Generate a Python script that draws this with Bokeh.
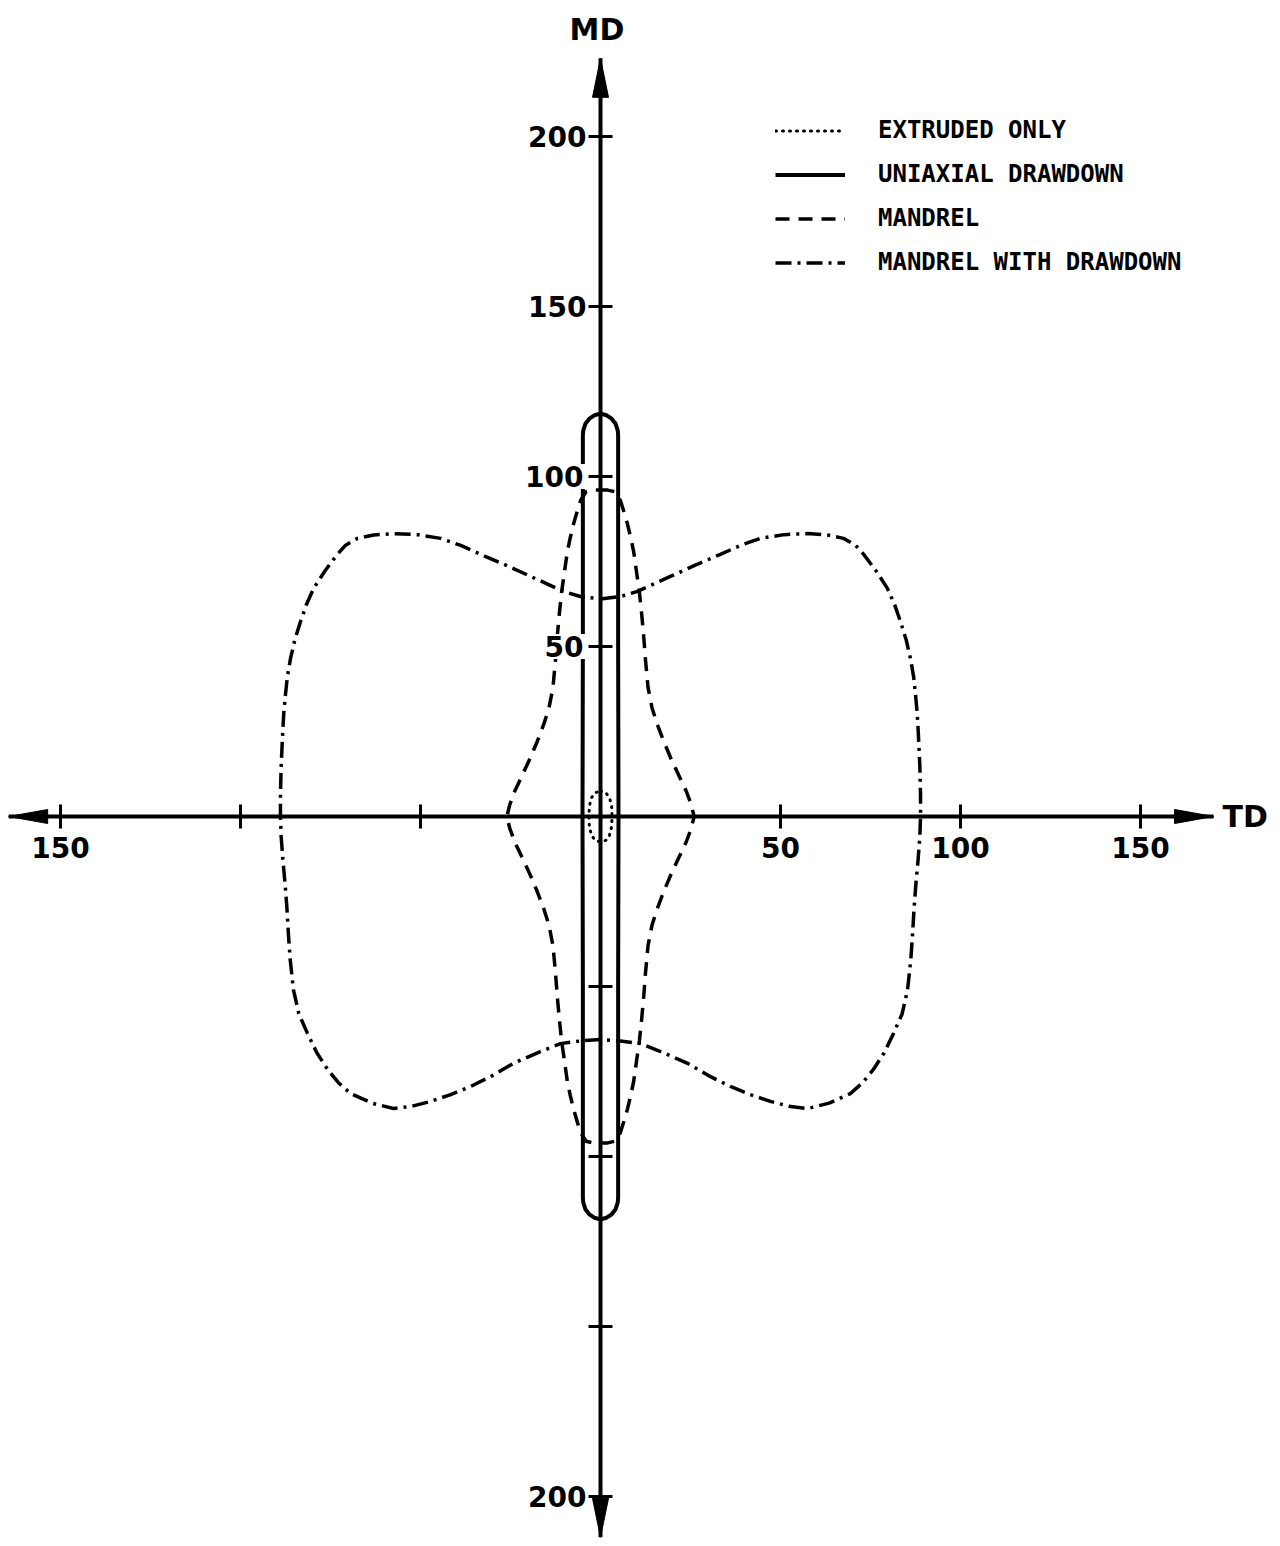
from bokeh.plotting import figure
from bokeh.models import Range1d, FixedTicker, Legend, LegendItem, Label
from bokeh.embed import file_html
from bokeh.resources import INLINE

# ---------------- data ----------------
# Mandrel with drawdown: upper-right profile (MD axis -> TD axis)
mdd_td_upper = [0, 5.6, 10.3, 15, 19.4, 26, 33.3, 39, 44.4, 51, 57.5, 63, 67.5, 70.8,
                73.1, 76.5, 79.7, 81.7, 83.3, 84.9, 86.1, 87, 87.5, 88, 88.3, 88.7, 88.9, 88.9]
mdd_md_upper = [64, 64.7, 66.2, 68.5, 70.6, 73.8, 77.1, 79.8, 81.8, 82.9, 83.2, 82.8, 81.8, 79.8,
                77.1, 72.3, 67.1, 62.3, 57.4, 52, 46.5, 41, 35.9, 30, 24.1, 15, 6.5, 0]
# Mandrel with drawdown: lower-right profile (TD axis -> MD axis)
mdd_td_lower = [88.7, 88.2, 87.6, 87.1, 86.7, 86.2, 85.3, 83.8, 81.4, 78.8, 75.8, 72.8, 69.4,
                63.5, 57.5, 52.3, 47.2, 41.6, 36.1, 30, 24.2, 17.5, 11.1, 5.5, 0]
mdd_md_lower = [-6, -13, -20, -27, -34.4, -42, -50.9, -58, -63.8, -69.5, -74.4, -78.3, -81.5,
                -84.3, -85.9, -85.2, -83.8, -81.8, -79.4, -76.2, -72.6, -69.5, -66.8, -66, -65.6]

# Mandrel: one quadrant (MD axis -> TD axis)
man_td = [0, 2, 4, 5.5, 6.4, 7.5, 8.4, 9.2, 10, 10.8, 11.4, 12, 12.5, 13.2, 14.3, 15.8,
          17.6, 19.6, 21.8, 23.8, 25.2, 26]
man_md = [96, 96, 95.5, 93, 90, 86, 82, 78, 72, 66, 60, 53, 46, 38, 32, 27,
          22, 17, 12, 7.5, 3.5, 0]

# Uniaxial drawdown: one quadrant
uni_td = [0, 1.7, 3.1, 4.2, 4.8, 4.9, 4.9, 5.0]
uni_md = [118.5, 118, 117, 115.5, 113.5, 112, 50, 0]

# Extruded only: one quadrant
ext_td = [0, 1.5, 2.5, 3.1, 3.2]
ext_md = [7.5, 7, 5.5, 3, 0]

series_names = ["EXTRUDED ONLY", "UNIAXIAL DRAWDOWN", "MANDREL", "MANDREL WITH DRAWDOWN"]

x_ticks = [-150, -100, -50, 50, 100, 150]
x_tick_labels = ["150", "", "", "50", "100", "150"]
y_ticks = [200, 150, 100, 50, -50, -100, -150, -200]
y_tick_labels = ["200", "150", "100", "50", "", "", "", "200"]
# tick labels that sit over the curves (drawn with a white box, as in the original)
y_boxed = [100, 50]

td_axis = [-164.4, 170.3]
md_axis = [-212.0, 223.0]

# ---------------- helpers ----------------
def right_half_from_quadrant(td, md):
    x = list(td) + [v for v in reversed(td[:-1])]
    y = list(md) + [-v for v in reversed(md[:-1])]
    return x, y

def close_loop(rx, ry):
    x = list(rx) + [-v for v in reversed(rx[:-1])]
    y = list(ry) + list(reversed(ry[:-1]))
    return x, y

# ---------------- figure ----------------
W, H = 1272, 1538
PX_TD, PX_MD = 3.6, 3.4
x0 = -600 / PX_TD
y1 = 816 / PX_MD
p = figure(width=W, height=H,
           x_range=Range1d(x0, x0 + W / PX_TD),
           y_range=Range1d(y1 - H / PX_MD, y1),
           output_backend="svg", toolbar_location=None, min_border=0)
p.outline_line_color = None
p.grid.visible = False
p.background_fill_color = "white"

FONT = "DejaVu Sans"
TICK_SIZE = "28px"

# axes through the origin
xa = p.xaxis[0]
xa.fixed_location = 0
xa.ticker = FixedTicker(ticks=x_ticks)
xa.major_label_overrides = {t: l for t, l in zip(x_ticks, x_tick_labels)}
ya = p.yaxis[0]
ya.fixed_location = 0
ya.ticker = FixedTicker(ticks=y_ticks)
ya.major_label_overrides = {t: ("" if t in y_boxed else l) for t, l in zip(y_ticks, y_tick_labels)}
for ax in (xa, ya):
    ax.axis_line_color = None
    ax.major_tick_in = 12
    ax.major_tick_out = 12
    ax.major_tick_line_width = 3
    ax.major_tick_line_color = "black"
    ax.minor_tick_line_color = None
    ax.major_label_text_font = FONT
    ax.major_label_text_font_style = "bold"
    ax.major_label_text_font_size = TICK_SIZE
    ax.major_label_text_color = "black"
xa.major_label_standoff = 8
ya.major_label_standoff = 2

for t, l in zip(y_ticks, y_tick_labels):
    if t in y_boxed:
        p.add_layout(Label(x=0, y=t, x_offset=-15, text=l, text_font=FONT,
                           text_font_style="bold", text_font_size=TICK_SIZE,
                           text_align="right", text_baseline="middle", text_color="black",
                           background_fill_color="white", padding=2))

# axis lines with arrowheads
p.line(td_axis, [0, 0], line_width=4, line_color="black")
p.line([0, 0], md_axis, line_width=4, line_color="black")
hl_td, hw_md = 39 / PX_TD, 7 / PX_MD
hl_md, hw_td = 39 / PX_MD, 8 / PX_TD
p.patches(
    xs=[[td_axis[0], td_axis[0] + hl_td, td_axis[0] + hl_td],
        [td_axis[1], td_axis[1] - hl_td, td_axis[1] - hl_td],
        [0, -hw_td, hw_td],
        [0, -hw_td, hw_td]],
    ys=[[0, hw_md, -hw_md],
        [0, hw_md, -hw_md],
        [md_axis[1], md_axis[1] - hl_md, md_axis[1] - hl_md],
        [md_axis[0], md_axis[0] + hl_md, md_axis[0] + hl_md]],
    fill_color="black", line_color="black", line_width=1)

# curves
ex, ey = close_loop(*right_half_from_quadrant(ext_td, ext_md))
ux, uy = close_loop(*right_half_from_quadrant(uni_td, uni_md))
mx, my = close_loop(*right_half_from_quadrant(man_td, man_md))
dx, dy = close_loop(mdd_td_upper + mdd_td_lower, mdd_md_upper + mdd_md_lower)

r_ext = p.line(ex, ey, line_color="black", line_width=3, line_dash="1 6", line_cap="round")
r_uni = p.line(ux, uy, line_color="black", line_width=4)
r_man = p.line(mx, my, line_color="black", line_width=3.5, line_dash="14 9")
r_mdd = p.line(dx, dy, line_color="black", line_width=3.5, line_dash="16 6 3 6")

legend = Legend(items=[LegendItem(label=n, renderers=[r])
                       for n, r in zip(series_names, [r_ext, r_uni, r_man, r_mdd])],
                location=(775, 1262), orientation="vertical",
                glyph_width=70, glyph_height=27, label_height=27, label_standoff=33,
                spacing=16, padding=0, margin=0,
                border_line_color=None, background_fill_alpha=0,
                label_text_font="DejaVu Sans Mono", label_text_font_style="bold",
                label_text_font_size="24px", label_text_color="black")
p.add_layout(legend)

p.add_layout(Label(x=td_axis[1] + 2.5, y=0, text="TD", text_font=FONT,
                   text_font_style="bold", text_font_size="30px",
                   text_align="left", text_baseline="middle", text_color="black"))
p.add_layout(Label(x=-1, y=231.5, text="MD", text_font=FONT,
                   text_font_style="bold", text_font_size="30px",
                   text_align="center", text_baseline="middle", text_color="black"))

open("out.html", "w").write(file_html(p, INLINE))
